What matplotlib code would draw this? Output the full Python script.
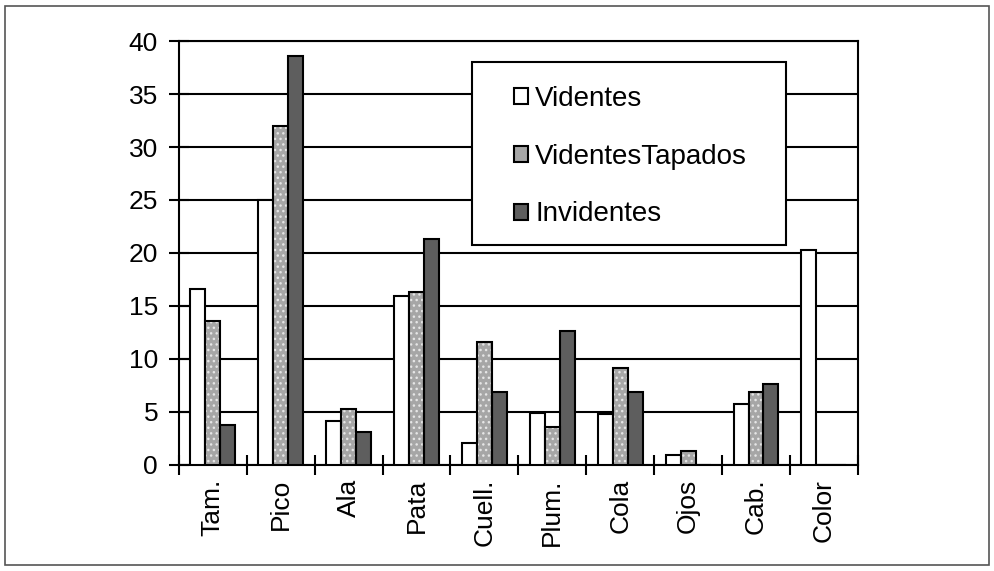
import numpy as np
import matplotlib
matplotlib.use("Agg")
import matplotlib.pyplot as plt
from matplotlib.patches import Rectangle

plt.rcParams['font.family'] = ['Liberation Sans', 'DejaVu Sans']

categorias = ["Tam.", "Pico", "Ala", "Pata", "Cuell.", "Plum.", "Cola", "Ojos", "Cab.", "Color"]
videntes = [16.6, 25.0, 4.1, 15.9, 2.1, 4.9, 4.8, 0.9, 5.7, 20.3]
videntes_tapados = [13.6, 32.0, 5.3, 16.3, 11.6, 3.6, 9.1, 1.3, 6.9, 0]
invidentes = [3.8, 38.6, 3.1, 21.3, 6.9, 12.6, 6.9, 0, 7.6, 0]
series = ["Videntes", "VidentesTapados", "Invidentes"]

fig = plt.figure(figsize=(9.94, 5.71), dpi=100)
ax = fig.add_axes([0.180, 0.186, 0.683, 0.742])

x = np.arange(len(categorias))
w = 0.22

ax.bar(x - w, videntes, w, color="white", edgecolor="black", linewidth=1.5, zorder=3)
ax.bar(x, videntes_tapados, w, color="#a6a6a6", edgecolor="#e6e6e6", hatch="...", linewidth=0, zorder=3)
ax.bar(x, videntes_tapados, w, color="none", edgecolor="black", linewidth=1.5, zorder=4)
ax.bar(x + w, invidentes, w, color="#5e5e5e", edgecolor="black", linewidth=1.5, zorder=3)

ax.set_xlim(-0.5, len(categorias) - 0.5)
ax.set_ylim(0, 40)
ax.set_yticks(range(0, 41, 5))
ax.yaxis.grid(True, color="black", linewidth=1.5, zorder=1)
ax.set_axisbelow(True)

ax.set_xticks(x)
ax.set_xticklabels(categorias, rotation=90, fontsize=19)
ax.tick_params(axis="x", length=0, pad=10)
ax.set_xticks(np.arange(-0.5, len(categorias), 1), minor=True)
ax.tick_params(axis="x", which="minor", direction="inout", length=14, width=1.5)
ax.tick_params(axis="y", direction="inout", length=14, width=1.5, labelsize=19, pad=8)
for s in ax.spines.values():
    s.set_linewidth(1.5)

# legend box drawn separately so it can be wider than its contents
ax.add_patch(Rectangle((0.431, 0.519), 0.463, 0.431, transform=ax.transAxes,
                       facecolor="white", edgecolor="black", linewidth=1.5, zorder=5))

h1 = Rectangle((0, 0), 1, 1, facecolor="white", edgecolor="black", linewidth=1.5)
h2 = Rectangle((0, 0), 1, 1, facecolor="#a6a6a6", edgecolor="black", linewidth=1.5)
h3 = Rectangle((0, 0), 1, 1, facecolor="#5e5e5e", edgecolor="black", linewidth=1.5)
leg = ax.legend([h1, h2, h3], series, loc="upper left", bbox_to_anchor=(0.494, 0.895),
                fontsize=20, frameon=False,
                handlelength=0.5, handleheight=0.5, handletextpad=0.25,
                labelspacing=1.15, borderpad=0, borderaxespad=0)
leg.set_zorder(6)

fig.patches.append(Rectangle((0.005, 0.01), 0.99, 0.98, transform=fig.transFigure,
                             fill=False, edgecolor="#555555", linewidth=1.2))

fig.savefig("out.png", dpi=100)
